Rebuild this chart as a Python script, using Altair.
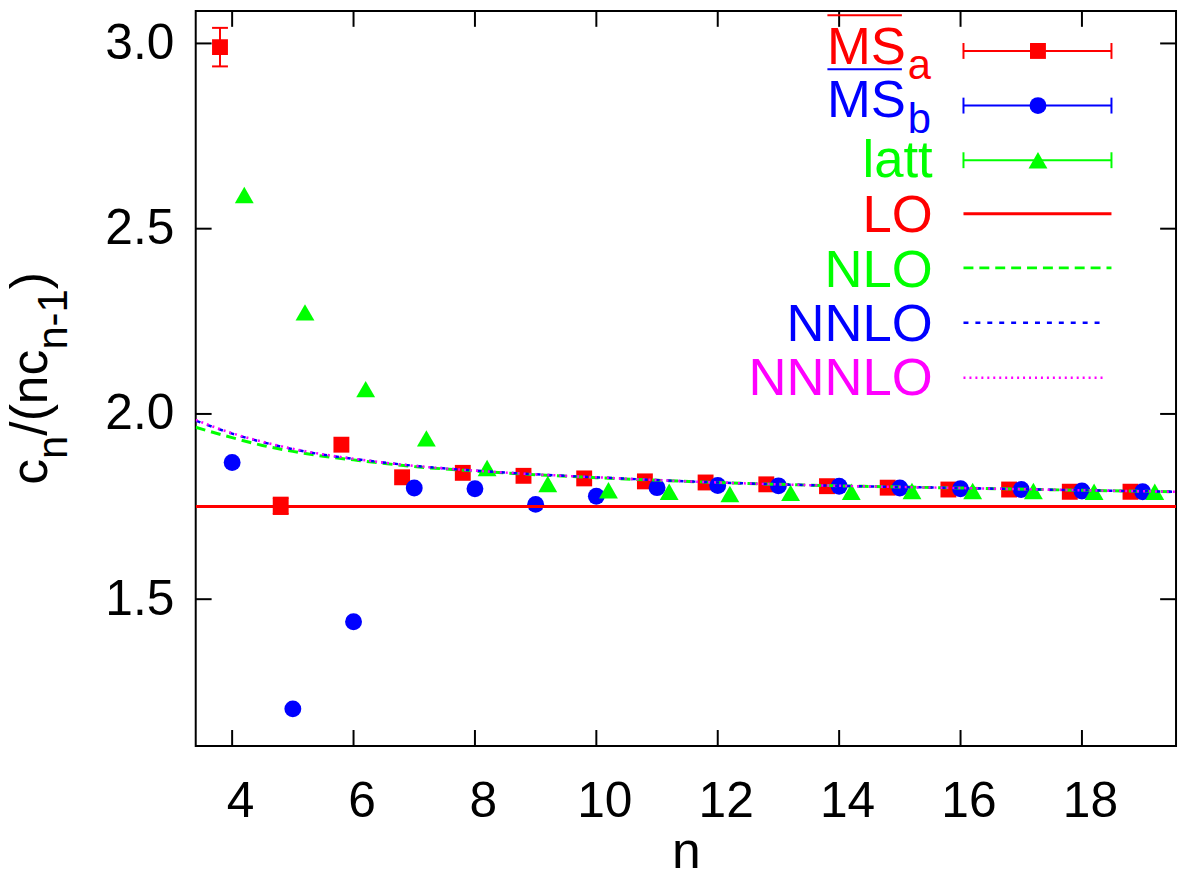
import altair as alt
import pandas as pd

# ---------------- data ----------------
n_vals = [4, 5, 6, 7, 8, 9, 10, 11, 12, 13, 14, 15, 16, 17, 18, 19]
msa_x = [3.8, 4.8, 5.8, 6.8, 7.8, 8.8, 9.8, 10.8, 11.8, 12.8, 13.8, 14.8, 15.8, 16.8, 17.8, 18.8]
msa_y = [2.990, 1.752, 1.917, 1.829, 1.841, 1.833, 1.826, 1.818, 1.815, 1.810, 1.805, 1.801, 1.796, 1.796, 1.790, 1.790]
msa_err = [0.052, 0.022, 0, 0, 0, 0, 0, 0, 0, 0, 0, 0, 0, 0, 0, 0]
msb_x = [4, 5, 6, 7, 8, 9, 10, 11, 12, 13, 14, 15, 16, 17, 18, 19]
msb_y = [1.869, 1.204, 1.439, 1.800, 1.798, 1.756, 1.778, 1.801, 1.807, 1.806, 1.805, 1.800, 1.798, 1.796, 1.792, 1.790]
latt_x = [4.2, 5.2, 6.2, 7.2, 8.2, 9.2, 10.2, 11.2, 12.2, 13.2, 14.2, 15.2, 16.2, 17.2, 18.2, 19.2]
latt_y = [2.591, 2.274, 2.067, 1.934, 1.854, 1.811, 1.794, 1.790, 1.784, 1.787, 1.790, 1.792, 1.792, 1.792, 1.790, 1.790]

lo_n = [3.4, 19.55]
lo_y = [1.75, 1.75]
curve_n = [3.4, 4, 4.5, 5, 5.5, 6, 7, 8, 9, 10, 12, 14, 16, 18, 19.55]
nlo_y = [1.964, 1.936, 1.915, 1.899, 1.886, 1.876, 1.858, 1.846, 1.836, 1.828, 1.815, 1.806, 1.800, 1.794, 1.790]
nnlo_y = [1.982, 1.947, 1.924, 1.905, 1.890, 1.879, 1.860, 1.847, 1.837, 1.829, 1.815, 1.806, 1.800, 1.794, 1.790]
nnnlo_y = [1.984, 1.948, 1.925, 1.906, 1.891, 1.879, 1.860, 1.847, 1.837, 1.829, 1.815, 1.806, 1.800, 1.794, 1.790]

x_ticks = [4, 6, 8, 10, 12, 14, 16, 18]
y_ticks = [1.5, 2.0, 2.5, 3.0]

# ---------------- layout / style ----------------
W, H = 987, 740
FONT = "Liberation Sans"
RED, BLUE, GREEN, MAG = "#ff0000", "#0000ff", "#00ff00", "#ff00ff"
TICK = 16

xs = alt.Scale(domain=[3.4, 19.55], nice=False, zero=False)
ys = alt.Scale(domain=[1.104, 3.0877], nice=False, zero=False)
xaxis = alt.Axis(values=x_ticks, format="d", labelFontSize=50, labelFont=FONT, labelColor="black",
                 ticks=False, domain=False, grid=False, labelPadding=31, labelOffset=8,
                 title="n", titleFont=FONT, titleFontSize=52, titleFontWeight="normal",
                 titleColor="black", titlePadding=0)
yaxis = alt.Axis(values=y_ticks, format=".1f", labelFontSize=50, labelFont=FONT, labelColor="black",
                 ticks=False, domain=False, grid=False, labelPadding=22, title=None)


def X(f):
    return alt.X(f, type="quantitative", scale=xs, axis=xaxis)


def Y(f):
    return alt.Y(f, type="quantitative", scale=ys, axis=yaxis)


msa = pd.DataFrame({"x": msa_x, "y": msa_y, "e": msa_err})
msa["lo"] = msa["y"] - msa["e"]
msa["hi"] = msa["y"] + msa["e"]
msa_e = msa[msa["e"] > 0]
msb = pd.DataFrame({"x": msb_x, "y": msb_y})
latt = pd.DataFrame({"x": latt_x, "y": latt_y})
lo = pd.DataFrame({"x": lo_n, "y": lo_y})
nlo = pd.DataFrame({"x": curve_n, "y": nlo_y})
nnlo = pd.DataFrame({"x": curve_n, "y": nnlo_y})
nnnlo = pd.DataFrame({"x": curve_n, "y": nnnlo_y})
xt = pd.DataFrame({"t": x_ticks})
yt = pd.DataFrame({"t": y_ticks})
dummy = pd.DataFrame({"d": [0]})

layers = []
# inward ticks on all four sides
tk = dict(color="black", strokeWidth=2)
layers.append(alt.Chart(xt).mark_rule(**tk).encode(x=X("t"), y=alt.value(H), y2=alt.value(H - TICK)))
layers.append(alt.Chart(xt).mark_rule(**tk).encode(x=X("t"), y=alt.value(0), y2=alt.value(TICK)))
layers.append(alt.Chart(yt).mark_rule(**tk).encode(y=Y("t"), x=alt.value(0), x2=alt.value(TICK)))
layers.append(alt.Chart(yt).mark_rule(**tk).encode(y=Y("t"), x=alt.value(W), x2=alt.value(W - TICK)))

# error bars of MS_a
layers.append(alt.Chart(msa_e).mark_rule(color=RED, strokeWidth=2).encode(x=X("x"), y=Y("lo"), y2=alt.Y2("hi")))
for f in ["lo", "hi"]:
    layers.append(alt.Chart(msa_e).mark_rule(color=RED, strokeWidth=2, xOffset=-8, x2Offset=8).encode(
        x=X("x"), x2=alt.X2("x"), y=Y(f)))

# points
layers.append(alt.Chart(msa).mark_point(shape="square", filled=True, size=256, color=RED, opacity=1, clip=True)
              .encode(x=X("x"), y=Y("y")))
layers.append(alt.Chart(msb).mark_point(shape="circle", filled=True, size=289, color=BLUE, opacity=1, clip=True)
              .encode(x=X("x"), y=Y("y")))
layers.append(alt.Chart(latt).mark_point(shape="triangle-up", filled=True, size=361, color=GREEN, opacity=1, clip=True)
              .encode(x=X("x"), y=Y("y")))

# theory curves
layers.append(alt.Chart(lo).mark_line(color=RED, strokeWidth=3, clip=True).encode(x=X("x"), y=Y("y")))
layers.append(alt.Chart(nlo).mark_line(color=GREEN, strokeWidth=3, strokeDash=[10, 6], interpolate="monotone", clip=True)
              .encode(x=X("x"), y=Y("y")))
layers.append(alt.Chart(nnlo).mark_line(color=BLUE, strokeWidth=2.5, strokeDash=[5, 7], interpolate="monotone", clip=True)
              .encode(x=X("x"), y=Y("y")))
layers.append(alt.Chart(nnnlo).mark_line(color=MAG, strokeWidth=2.5, strokeDash=[2, 4], interpolate="monotone", clip=True)
              .encode(x=X("x"), y=Y("y")))

# ---------------- manual legend ----------------
LX0, LX1, LXM = 773, 922, 848
rows = [40.3, 95.3, 150.3, 204.3, 258.7, 314.0, 369.3]
base = [53.7, 107.0, 167.0, 222.7, 278.0, 332.7, 387.0]
LF, SLF = 53, 42
TX = 742


def txt(s, x, y, color, size, align="right"):
    return alt.Chart(dummy).mark_text(text=s, font=FONT, fontSize=size, color=color, align=align,
                                      baseline="alphabetic").encode(x=alt.value(x), y=alt.value(y))


def hline(x0, x1, y, color, width=2, dash=None):
    kw = dict(color=color, strokeWidth=width)
    if dash:
        kw["strokeDash"] = dash
    return alt.Chart(dummy).mark_rule(**kw).encode(x=alt.value(x0), x2=alt.value(x1), y=alt.value(y))


def vline(x, y0, y1, color, width=2):
    return alt.Chart(dummy).mark_rule(color=color, strokeWidth=width).encode(
        x=alt.value(x), y=alt.value(y0), y2=alt.value(y1))


# MS_a
layers.append(txt("MS", 715, base[0], RED, LF))
layers.append(txt("a", 717, base[0] + 15, RED, SLF, align="left"))
layers.append(hline(636, 711, 4.3, RED, 2))
# MS_b
layers.append(txt("MS", 715, base[1], BLUE, LF))
layers.append(txt("b", 717, base[1] + 16, BLUE, SLF, align="left"))
layers.append(hline(636, 711, 58.7, BLUE, 2))
# latt, LO, NLO, NNLO, NNNLO
layers.append(txt("latt", TX, base[2], GREEN, LF))
layers.append(txt("LO", TX, base[3], RED, LF))
layers.append(txt("NLO", TX, base[4], GREEN, LF))
layers.append(txt("NNLO", TX, base[5], BLUE, LF))
layers.append(txt("NNNLO", TX, base[6], MAG, LF))

for i, (c, shp, sz) in enumerate([(RED, "square", 256), (BLUE, "circle", 289), (GREEN, "triangle-up", 361)]):
    y = rows[i]
    layers.append(hline(LX0, LX1, y, c, 2))
    layers.append(vline(LX0, y - 8, y + 8, c))
    layers.append(vline(LX1, y - 8, y + 8, c))
    layers.append(alt.Chart(dummy).mark_point(shape=shp, filled=True, size=sz, color=c, opacity=1)
                  .encode(x=alt.value(LXM), y=alt.value(y)))
layers.append(hline(LX0, LX1, rows[3], RED, 3))
layers.append(hline(LX0, LX1, rows[4], GREEN, 3, [10, 6]))
layers.append(hline(LX0, LX1 - 6, rows[5], BLUE, 2.5, [5, 7]))
layers.append(hline(LX0, LX1 - 6, rows[6], MAG, 2.5, [2, 4]))

# ---------------- y-axis title c_n/(nc_{n-1}) built from pieces ----------------
EM = {"c": 0.5, "n": 0.556, "/": 0.278, "(": 0.333, ")": 0.333, "-": 0.333, "1": 0.556}
TF, SF = 52, 42
BX, SBX = -150, -130
pieces = [("c", TF, BX), ("n", SF, SBX), ("/", TF, BX), ("(", TF, BX), ("n", TF, BX), ("c", TF, BX),
          ("n-1", SF, SBX), (")", TF, BX)]
total = sum(sum(EM[ch] for ch in s) * f for s, f, _ in pieces)
cy = 370 + total / 2
for s, f, bx in pieces:
    layers.append(alt.Chart(dummy).mark_text(text=s, font=FONT, fontSize=f, color="black", align="left",
                                             baseline="alphabetic", angle=270)
                  .encode(x=alt.value(bx), y=alt.value(cy)))
    cy -= sum(EM[ch] for ch in s) * f

chart = alt.layer(*layers).properties(
    width=W, height=H,
    padding={"left": 189, "top": 0, "right": 4, "bottom": 126},
    autosize=alt.AutoSizeParams(type="none"),
    background="white",
).configure_view(stroke="black", strokeWidth=2)

chart.save("out.html", embed_options={"renderer": "svg", "actions": False})
